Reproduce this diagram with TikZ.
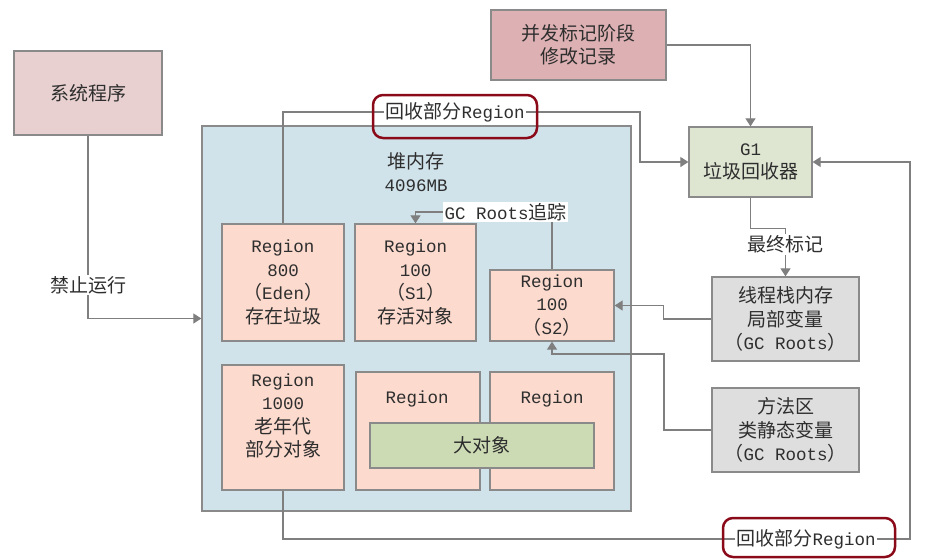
\documentclass[tikz,border=0pt]{standalone}
\usepackage{fontspec}
\setmainfont{Noto Sans CJK SC}
\newfontfamily\monof{Liberation Mono}
\usetikzlibrary{arrows.meta,calc}
\newcommand\latn[1]{{\monof\fontsize{17.5}{23.5}\selectfont #1}}
\definecolor{txtc}{HTML}{2E2E2E}
\definecolor{linec}{HTML}{7F7F7F}
\definecolor{bordc}{HTML}{8A8A8A}
\definecolor{pinkA}{HTML}{E8D0D0}
\definecolor{pinkB}{HTML}{DDB1B3}
\definecolor{greenA}{HTML}{DEE6D2}
\definecolor{grayA}{HTML}{DEDEDE}
\definecolor{heapc}{HTML}{D0E2EA}
\definecolor{regc}{HTML}{FCDACE}
\definecolor{bigc}{HTML}{CCDBB4}
\definecolor{redc}{HTML}{8B0A1A}
\begin{document}
\begin{tikzpicture}[x=1pt,y=-1pt,
  box/.style={draw=bordc,line width=1.3pt,inner sep=0pt,align=center,text=txtc,
    font=\fontsize{19}{23.5}\selectfont},
  lbl/.style={inner sep=1.5pt,text=txtc,fill=white,font=\fontsize{19}{23.5}\selectfont},
  txt/.style={inner sep=0pt,text=txtc,align=center,font=\fontsize{19}{23.5}\selectfont},
  conn/.style={draw=linec,line width=1.2pt},
  arr/.style={conn,-{Triangle[length=8pt,width=10pt]}},
  redring/.style={draw=redc,line width=2.5pt,rounded corners=10pt,inner sep=0pt}
]
\useasboundingbox (0,0) rectangle (928,558);
% outer boxes
\node[box,fill=pinkA,minimum width=148pt,minimum height=84pt] (sys) at (88,93) {系统程序};
\node[box,fill=pinkB,minimum width=175pt,minimum height=70pt] (conc) at (578.5,45) {并发标记阶段\\修改记录};
\node[box,fill=greenA,minimum width=123pt,minimum height=70pt] (g1) at (750.5,162) {\latn{G1}\\垃圾回收器};
\node[box,fill=grayA,minimum width=147pt,minimum height=84pt] (stack) at (785.5,319) {线程栈内存\\局部变量\\（\latn{GC Roots}）};
\node[box,fill=grayA,minimum width=147pt,minimum height=84pt] (method) at (785.5,430) {方法区\\类静态变量\\（\latn{GC Roots}）};
% heap
\node[box,fill=heapc,minimum width=429pt,minimum height=385pt] (heap) at (416.5,318.5) {};
\node[txt] (heapt) at (416,172) {堆内存\\\latn{4096MB}};
% regions
\node[box,fill=regc,minimum width=122pt,minimum height=117pt] (r800) at (283,282.5) {\latn{Region}\\\latn{800}\\（\latn{Eden}）\\存在垃圾};
\node[box,fill=regc,minimum width=121pt,minimum height=117pt] (s1) at (415.5,282.5) {\latn{Region}\\\latn{100}\\（\latn{S1}）\\存活对象};
\node[box,fill=regc,minimum width=124pt,minimum height=71pt] (s2) at (552,305.5) {\latn{Region}\\\latn{100}\\（\latn{S2}）};
\node[box,fill=regc,minimum width=122pt,minimum height=125pt] (r1000) at (283,427.5) {};
\node[txt] (r1000t) at (283,416) {\latn{Region}\\\latn{1000}\\老年代\\部分对象};
\node[box,fill=regc,minimum width=124pt,minimum height=118pt] (rm) at (418,431) {};
\node[txt] (rmt) at (417,399) {\latn{Region}};
\node[box,fill=regc,minimum width=124pt,minimum height=118pt] (rr) at (552,431) {};
\node[txt] (rrt) at (552,399) {\latn{Region}};
\node[box,fill=bigc,minimum width=224pt,minimum height=45pt] (big) at (482,445.5) {大对象};
% labels
\node[lbl] (toplbl) at (455,112) {回收部分\latn{Region}};
\node[lbl] (botlbl) at (806,539) {回收部分\latn{Region}};
\node[lbl] (gclbl) at (505.5,212) {\latn{GC Roots}追踪};
% connectors
\coordinate (t1) at (640,112);
\coordinate (b1) at (910,539);
\coordinate (m1) at (664,354);
\draw[arr] (sys.south) |- (heap.west);
\node[lbl] (stop) at (88,285) {禁止运行};
\draw[conn] (r800.north) |- (toplbl.west);
\draw[arr] (toplbl.east) -- (t1) |- (g1.west);
\draw[arr] (conc.east) -| (g1.north);
\draw[arr] (g1.south) -- ++(0,31) -| (stack.north);
\node[lbl] (final) at ($(stack.north)+(0,-32)$) {最终标记};
\draw[arr] (stack.west) -- ++(-48,0) |- (s2.east);
\draw[arr] (method.west) -| (m1) -| (s2.south);
\draw[conn] (s2.north) -- (s2.north |- gclbl.south);
\draw[arr] (gclbl.west) -| (s1.north);
\draw[conn] (r1000.south) |- (botlbl.west);
\draw[arr] (botlbl.east) -| (b1) |- (g1.east);
% red rings
\node[redring,minimum width=164pt,minimum height=43pt] (ring1) at (455,116.5) {};
\node[redring,minimum width=172pt,minimum height=39pt] (ring2) at (809,537.5) {};
\end{tikzpicture}
\end{document}
